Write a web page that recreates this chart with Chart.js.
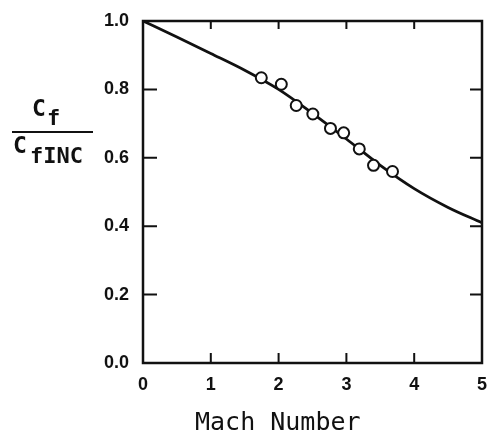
<!DOCTYPE html>
<html>
<head>
<meta charset="utf-8">
<script src="https://cdn.jsdelivr.net/npm/chart.js@4.4.1/dist/chart.umd.min.js"></script>
<style>
  html, body { margin: 0; padding: 0; background: #fff; }
  #wrap { position: relative; width: 490px; height: 439px; }
  .lbl { position: absolute; font-family: 'DejaVu Sans Mono', monospace; color: #111; line-height: 1; white-space: nowrap; }
  .big { font-size: 23px; font-weight: bold; }
  .sub { font-size: 22px; font-weight: bold; }
  #fbar { position: absolute; left: 12px; top: 131px; width: 81px; border-top: 2px solid #111; }
  #xt { font-size: 25px; left: 195px; top: 409px; }
</style>
</head>
<body>
<div id="wrap">
  <canvas id="c" width="490" height="439"></canvas>
  <span class="lbl big" style="left:32px; top:97px">C</span>
  <span class="lbl sub" style="left:47px; top:107px">f</span>
  <div id="fbar"></div>
  <span class="lbl big" style="left:13px; top:134px">C</span>
  <span class="lbl sub" style="left:30px; top:145px">fINC</span>
  <span class="lbl" id="xt">Mach Number</span>
</div>
<script>
// theory curve (Cf / Cf,inc vs Mach)
const curveMach = [0, 0.5, 1.0, 1.5, 2.0, 2.5, 3.0, 3.5, 4.0, 4.5, 5.0];
const curveRatio = [1.0, 0.953, 0.905, 0.856, 0.800, 0.730, 0.655, 0.578, 0.510, 0.455, 0.41];

// measured points
const dataMach = [1.745, 2.04, 2.26, 2.505, 2.765, 2.96, 3.19, 3.40, 3.68];
const dataRatio = [0.834, 0.815, 0.753, 0.728, 0.686, 0.673, 0.626, 0.578, 0.560];

const xTicks = [0, 1, 2, 3, 4, 5];
const yTicks = [0.0, 0.2, 0.4, 0.6, 0.8, 1.0];

const ink = '#111';

// inward tick marks on all four sides + frame
const innerTicks = {
  id: 'innerTicks',
  afterDraw(chart) {
    const { ctx, chartArea: a, scales: { x, y } } = chart;
    ctx.save();
    ctx.strokeStyle = ink;
    ctx.lineWidth = 2;
    ctx.beginPath();
    xTicks.forEach(v => {
      if (v === 0 || v === 5) return;
      const px = x.getPixelForValue(v);
      ctx.moveTo(px, a.bottom); ctx.lineTo(px, a.bottom - 10);
      ctx.moveTo(px, a.top); ctx.lineTo(px, a.top + 8);
    });
    yTicks.forEach(v => {
      if (v === 0 || v === 1) return;
      const py = y.getPixelForValue(v);
      ctx.moveTo(a.left, py); ctx.lineTo(a.left + 14, py);
      ctx.moveTo(a.right, py); ctx.lineTo(a.right - 12, py);
    });
    ctx.stroke();
    ctx.lineWidth = 2.5;
    ctx.strokeRect(a.left, a.top, a.right - a.left, a.bottom - a.top);
    ctx.restore();
  }
};

const tickFont = { family: 'Liberation Sans', size: 18, weight: 'bold' };

new Chart(document.getElementById('c'), {
  type: 'scatter',
  data: {
    datasets: [
      {
        type: 'line',
        data: curveMach.map((m, i) => ({ x: m, y: curveRatio[i] })),
        borderColor: ink,
        borderWidth: 2.8,
        pointRadius: 0,
        cubicInterpolationMode: 'monotone',
        fill: false,
        order: 2
      },
      {
        data: dataMach.map((m, i) => ({ x: m, y: dataRatio[i] })),
        pointRadius: 5.5,
        pointBackgroundColor: '#fff',
        pointBorderColor: ink,
        pointBorderWidth: 2,
        order: 1
      }
    ]
  },
  options: {
    responsive: false,
    animation: false,
    layout: { padding: { top: 21, right: 0, left: 0, bottom: 0 } },
    plugins: { legend: { display: false }, tooltip: { enabled: false } },
    scales: {
      x: {
        type: 'linear', min: 0, max: 5,
        afterBuildTicks: s => { s.ticks = xTicks.map(v => ({ value: v })); },
        ticks: { color: ink, font: tickFont, padding: 3, maxRotation: 0 },
        grid: { display: false },
        border: { display: false },
        afterFit: s => { s.height = 76; }
      },
      y: {
        min: 0, max: 1.0,
        afterBuildTicks: s => { s.ticks = yTicks.map(v => ({ value: v })); },
        ticks: {
          color: ink, font: tickFont, padding: 6,
          callback: v => v.toFixed(1)
        },
        grid: { display: false },
        border: { display: false },
        afterFit: s => { s.width = 143; }
      }
    }
  },
  plugins: [innerTicks]
});
</script>
</body>
</html>
